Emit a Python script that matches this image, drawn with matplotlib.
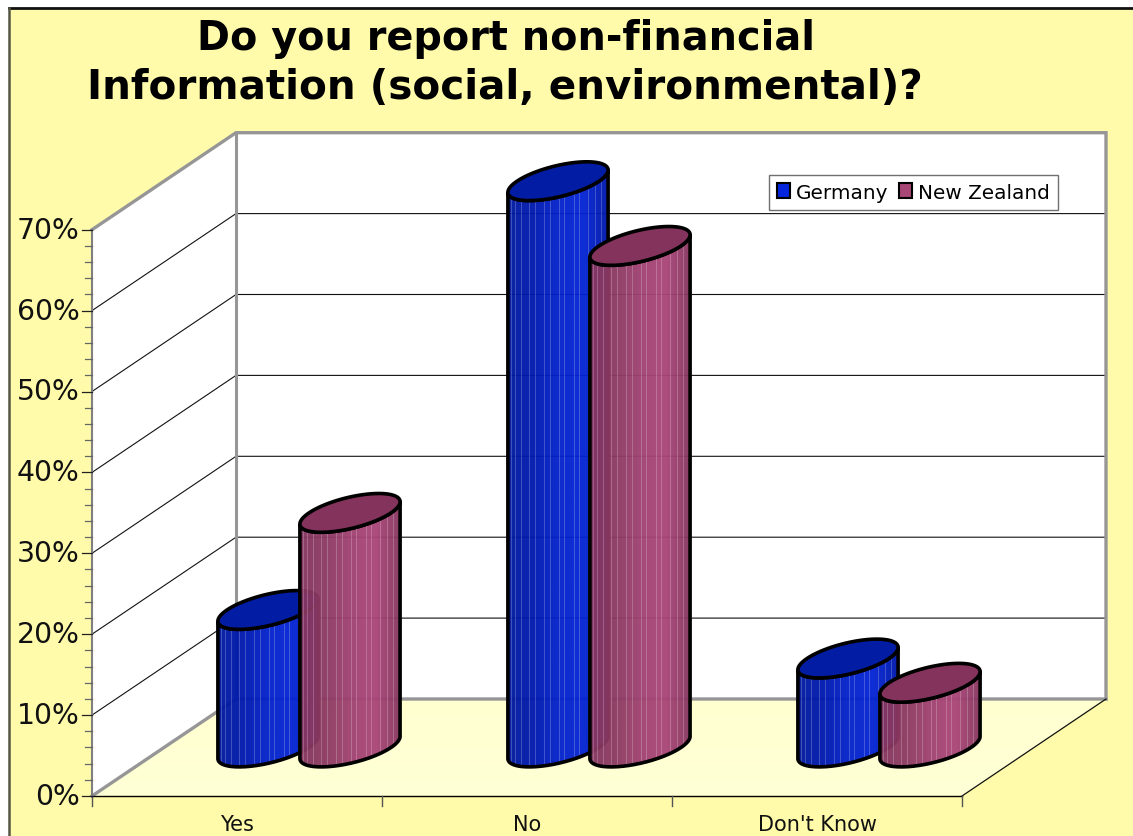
import numpy as np
import matplotlib
matplotlib.use("Agg")
import matplotlib.pyplot as plt
from matplotlib.patches import Polygon, PathPatch, Patch, Rectangle
from matplotlib.path import Path
from matplotlib.colors import LinearSegmentedColormap

categories = ["Yes", "No", "Don't Know"]
germany = [17, 70, 11]
new_zealand = [29, 62, 8]
y_ticks = [0, 10, 20, 30, 40, 50, 60, 70]
series_names = ["Germany", "New Zealand"]

W, H = 1133, 837
X0, Y0 = 92.0, 797.0      # front-left floor corner
CAT_W = 290.0
PX_PER_PCT = 8.09
DX, DY = 144.0, -97.0     # depth direction
R = 41.0                  # cylinder radius along the category axis
DISC = 0.2                # cylinder radius along the depth axis
YEL = "#FFFBAA"
GRAY = "#969696"

def proj(cat, val, depth=0.0):
    return X0 + cat * CAT_W + depth * DX, Y0 - val * PX_PER_PCT + depth * DY

fig = plt.figure(figsize=(W / 100, H / 100), dpi=100, facecolor="white")
ax = fig.add_axes([0, 0, 1, 1])
ax.set_xlim(0, W)
ax.set_ylim(H, 0)
ax.axis("off")
ax.set_autoscale_on(False)

# chart background and frame
ax.add_patch(Rectangle((8.5, 8.5), W, H, fc=YEL, ec="none", zorder=0))
ax.plot([8.5, W], [8.5, 8.5], color="#111111", lw=2.0, zorder=1)
ax.plot([8.5, 8.5], [8.5, H], color="#555544", lw=1.8, zorder=1)

top = y_ticks[-1]
ncat = len(categories)
# walls
ax.add_patch(Polygon([proj(0, 0), proj(0, 0, 1), proj(0, top, 1), proj(0, top)], fc="white", ec="none", zorder=1))
ax.add_patch(Polygon([proj(0, 0, 1), proj(ncat, 0, 1), proj(ncat, top, 1), proj(0, top, 1)], fc="white", ec="none", zorder=1))
# floor with soft gradient
floor_cm = LinearSegmentedColormap.from_list("f", ["#FFFFD0", "#FFFFD6"])
floor = ax.imshow(np.linspace(0, 1, 64)[:, None], cmap=floor_cm, extent=(X0, proj(ncat, 0, 1)[0], Y0, proj(0, 0, 1)[1]),
                  aspect="auto", zorder=1.1)
floor_poly = Polygon([proj(0, 0), proj(ncat, 0), proj(ncat, 0, 1), proj(0, 0, 1)], transform=ax.transData)
floor.set_clip_path(floor_poly)
ax.set_xlim(0, W)
ax.set_ylim(H, 0)

# gridlines
for v in y_ticks[1:-1]:
    a, b, c = proj(0, v), proj(0, v, 1), proj(ncat, v, 1)
    ax.plot([a[0], b[0], c[0]], [a[1], b[1], c[1]], color="#111111", lw=0.8, zorder=1.2)
# wall edges
a, b, c, d = proj(0, top), proj(0, top, 1), proj(ncat, top, 1), proj(ncat, 0, 1)
ax.plot([a[0], b[0], c[0], d[0]], [a[1], b[1], c[1], d[1]], color=GRAY, lw=2.4, zorder=1.3, solid_joinstyle="miter")
a, b = proj(0, 0, 1), proj(0, top, 1)
ax.plot([a[0], b[0]], [a[1], b[1]], color=GRAY, lw=2.2, zorder=1.3)
a, b, c = proj(0, 0), proj(0, 0, 1), proj(ncat, 0, 1)
ax.plot([a[0], b[0], c[0]], [a[1], b[1], c[1]], color=GRAY, lw=2.4, zorder=1.3)
a, b = proj(ncat, 0), proj(ncat, 0, 1)
ax.plot([a[0], b[0]], [a[1], b[1]], color="#111111", lw=0.9, zorder=1.3)

# axes lines and ticks
a, b = proj(0, 0), proj(ncat, 0)
ax.plot([a[0], b[0]], [a[1], b[1]], color="black", lw=1.0, zorder=1.4)
for i in range(ncat + 1):
    x, y = proj(i, 0)
    ax.plot([x, x], [y, y + 10], color="#555555", lw=1.0, zorder=1.4)
x, y1 = proj(0, 0)
_, y2 = proj(0, top)
ax.plot([x, x], [y1, y2], color="#808080", lw=1.5, zorder=1.4)
for v in np.arange(0, top + 0.1, 2):
    xx, yy = proj(0, v)
    major = v % 10 == 0
    ax.plot([xx - (10 if major else 7), xx], [yy, yy], color="#666666" if not major else "#222222", lw=0.9, zorder=1.4)
for v in y_ticks:
    xx, yy = proj(0, v)
    ax.text(79.5, yy, f"{v}%", ha="right", va="center", fontsize=20.3, family="DejaVu Sans", color="#111111", zorder=3)
for i, cat in enumerate(categories):
    xx, yy = proj(i + 0.5, 0)
    ax.text(xx, 825, cat, ha="center", va="center", fontsize=15.0, family="DejaVu Sans", color="#111111", zorder=3)

# cylinders
t0 = np.arctan2(DISC * DX, R)
front = np.linspace(t0 + np.pi, t0 + 2 * np.pi, 80)
full = np.linspace(0, 2 * np.pi, 160)
STREAKS = [.035, .07, .13, .21, .27, .36, .42, .51, .56, .66, .71, .80, .87, .93]

def disc(cx, cy, t):
    return cx + R * np.cos(t) + DISC * DX * np.sin(t), cy + DISC * DY * np.sin(t)

def cylinder(cat_index, sign, value, side_colors, top_color, z):
    cx, base_y = proj(cat_index + 0.5, 0, 0.5)
    cx += sign * R
    top_y = proj(cat_index + 0.5, value, 0.5)[1]
    xt, yt = disc(cx, top_y, front)
    xb, yb = disc(cx, base_y, front)
    xs = np.r_[xt, xb[::-1], xt[0]]
    ys = np.r_[yt, yb[::-1], yt[0]]
    side = Path(np.c_[xs, ys])
    x_min, x_max = xt.min(), xt.max()
    y_min = min(yt.min(), top_y - 25)
    y_max = yb.max()
    cm = LinearSegmentedColormap.from_list("s", side_colors)
    im = ax.imshow(np.linspace(0, 1, 128)[None, :], cmap=cm, extent=(x_min, x_max, y_max, y_min),
                   aspect="auto", alpha=0.96, zorder=z)
    im.set_clip_path(PathPatch(side, transform=ax.transData))
    for f in STREAKS:
        xv = x_min + f * (x_max - x_min)
        ln, = ax.plot([xv, xv], [y_min, y_max], color="white", lw=0.6, alpha=0.26, zorder=z + 0.01)
        ln.set_clip_path(PathPatch(side, transform=ax.transData))
    ax.add_patch(PathPatch(side, fc="none", ec="black", lw=2.6, zorder=z + 0.02, joinstyle="round"))
    xe, ye = disc(cx, top_y, full)
    ax.add_patch(Polygon(np.c_[xe, ye], fc=top_color, ec="black", lw=2.6, zorder=z + 0.03, joinstyle="round"))

blue_side = ["#001A9E", "#0019B0", "#0422CC", "#0424D4", "#0018A8"]
red_side = ["#863560", "#8C3A62", "#A04272", "#AA4678", "#863660"]
for i in range(ncat):
    cylinder(i, -1, germany[i], blue_side, "#021CA4", 2 + i)
    cylinder(i, 1, new_zealand[i], red_side, "#84345C", 2.5 + i)

ax.set_xlim(0, W)
ax.set_ylim(H, 0)

# title
ax.text(506, 39, "Do you report non-financial", ha="center", va="center", fontsize=28.6, fontweight="bold",
        family="DejaVu Sans", color="black", zorder=6)
ax.text(505, 88, "Information (social, environmental)?", ha="center", va="center", fontsize=29.2, fontweight="bold",
        family="DejaVu Sans", color="black", zorder=6)

# legend
handles = [Patch(fc="#0526DC", ec="black", lw=1.5, label=series_names[0]),
           Patch(fc="#A84676", ec="black", lw=1.5, label=series_names[1])]
leg = ax.legend(handles=handles, ncol=2, loc="center", bbox_to_anchor=(913.5, 193), bbox_transform=ax.transData,
                frameon=True, fancybox=False, framealpha=1, edgecolor="#707070", facecolor="white",
                prop={"family": "DejaVu Sans", "size": 14.4}, handlelength=0.65, handleheight=0.8,
                handletextpad=0.3, columnspacing=0.5, borderpad=0.4, borderaxespad=0)
leg.set_zorder(5)
leg.get_frame().set_linewidth(1.0)

fig.savefig("out.png", dpi=100)
